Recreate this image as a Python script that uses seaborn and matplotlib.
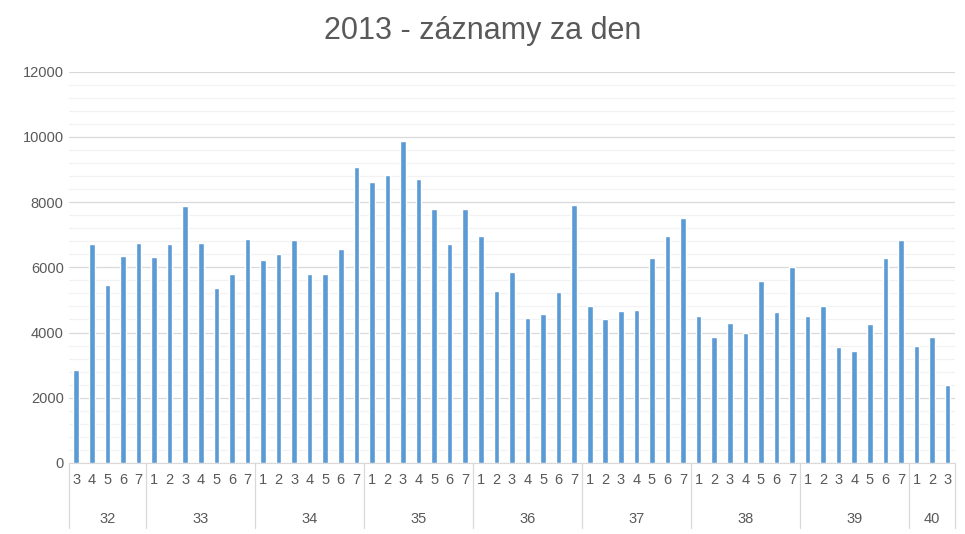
import matplotlib.pyplot as plt
import seaborn as sns
import pandas as pd
import numpy as np

# week -> day numbers and values
weeks = [32, 33, 34, 35, 36, 37, 38, 39, 40]
days = [
    [3, 4, 5, 6, 7],
    [1, 2, 3, 4, 5, 6, 7],
    [1, 2, 3, 4, 5, 6, 7],
    [1, 2, 3, 4, 5, 6, 7],
    [1, 2, 3, 4, 5, 6, 7],
    [1, 2, 3, 4, 5, 6, 7],
    [1, 2, 3, 4, 5, 6, 7],
    [1, 2, 3, 4, 5, 6, 7],
    [1, 2, 3],
]
values = [
    [2850, 6720, 5450, 6350, 6750],
    [6330, 6700, 7870, 6750, 5350, 5800, 6880],
    [6230, 6420, 6850, 5780, 5780, 6550, 9080],
    [8600, 8830, 9880, 8700, 7780, 6720, 7780],
    [6950, 5280, 5870, 4450, 4580, 5230, 7920],
    [4820, 4420, 4650, 4680, 6270, 6950, 7500],
    [4520, 3850, 4280, 4000, 5570, 4620, 6020],
    [4520, 4820, 3550, 3420, 4250, 6270, 6850],
    [3600, 3850, 2400],
]

rows = []
for w, ds, vs in zip(weeks, days, values):
    for d, v in zip(ds, vs):
        rows.append({"week": w, "day": d, "value": v})
df = pd.DataFrame(rows)
df["pos"] = range(len(df))

sns.set_style("white")
plt.rcParams["font.family"] = ["Liberation Sans", "DejaVu Sans"]

fig = plt.figure(figsize=(9.65, 5.34), dpi=100)
ax = fig.add_axes([0.071, 0.133, 0.919, 0.733])

sns.barplot(data=df, x="pos", y="value", color="#5B9BD5", width=0.36,
            saturation=1, ax=ax, zorder=3)

ax.set_ylim(0, 12000)
ax.set_yticks(np.arange(0, 12001, 2000))
ax.set_yticks(np.arange(0, 12001, 400), minor=True)
ax.tick_params(axis="y", which="both", length=0, labelsize=10.5, colors="#595959")
ax.grid(axis="y", which="major", color="#D9D9D9", lw=0.9, zorder=0)
ax.grid(axis="y", which="minor", color="#F2F2F2", lw=0.9, zorder=0)
ax.set_xlim(-0.5, len(df) - 0.5)
ax.set_xticks(df["pos"])
ax.set_xticklabels(df["day"], fontsize=10.5, color="#595959")
ax.tick_params(axis="x", length=0, pad=7)
ax.set_xlabel("")
ax.set_ylabel("")
for s in ["top", "right", "left"]:
    ax.spines[s].set_visible(False)
ax.spines["bottom"].set_color("#D9D9D9")

# week group labels and separators
trans = ax.get_xaxis_transform()
start = 0
seps = [-0.5]
for w, ds in zip(weeks, days):
    end = start + len(ds)
    ax.text((start + end - 1) / 2, -0.143, str(w), transform=trans,
            ha="center", va="center", fontsize=10.5, color="#595959")
    seps.append(end - 0.5)
    start = end
for s in seps:
    ax.plot([s, s], [0, -0.165], transform=trans, color="#D9D9D9", lw=0.9, clip_on=False)

fig.suptitle("2013 - záznamy za den", fontsize=22, color="#595959", y=0.97)
fig.savefig("out.png", dpi=100)
